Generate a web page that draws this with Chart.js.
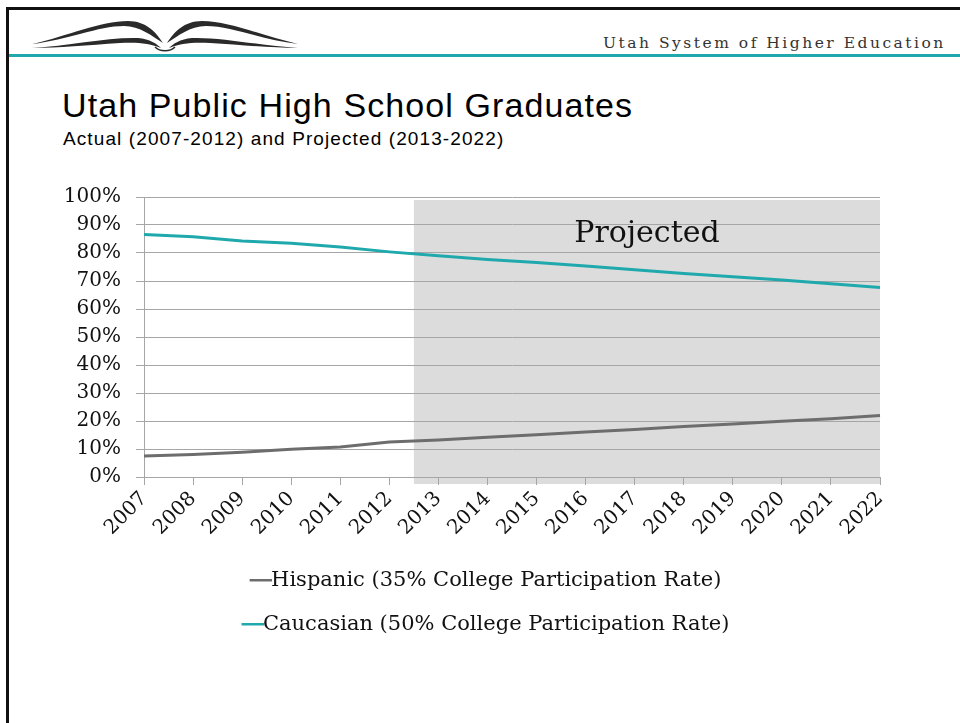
<!DOCTYPE html>
<html>
<head>
<meta charset="utf-8">
<script src="https://cdn.jsdelivr.net/npm/chart.js@4"></script>
<style>
  body{margin:0;background:#fff;width:960px;height:723px;overflow:hidden;position:relative;font-family:"Liberation Sans",Arial,sans-serif}
  #frame{position:absolute;left:6px;top:7px;width:960px;height:720px;border-left:3px solid #111;border-top:3px solid #111}
  #rule{position:absolute;left:9px;top:54px;width:951px;height:3px;background:#1fa9ad}
  #logo{position:absolute;left:28px;top:14px}
  #org{position:absolute;left:603px;top:34px;font-family:"DejaVu Serif",serif;font-size:15.5px;letter-spacing:2.5px;color:#333}
  #title{position:absolute;left:62px;top:86px;font-size:34px;letter-spacing:1.1px;color:#000}
  #sub{position:absolute;left:63px;top:128px;font-size:19px;letter-spacing:1.1px;color:#000}
  #wrap{position:absolute;left:0;top:170px;width:960px;height:475px}
</style>
</head>
<body>
<div id="frame"></div>
<svg id="logo" width="275" height="40" viewBox="0 0 275 40">
  <path d="M4,30 C40,22 72,7 100,7 C118,7 128,18 135,29 C124,22 112,12 96,12 C70,12 40,26 4,30 Z" fill="#2a2a2a"/>
  <path d="M4,34 C40,32 80,23 110,24 C122,25 129,30 133,34 C122,29 108,28 92,29 C60,31 30,34 4,34 Z" fill="#2a2a2a"/>
  <path d="M270,30 C234,22 202,7 174,7 C156,7 146,18 139,29 C150,22 162,12 178,12 C204,12 234,26 270,30 Z" fill="#2a2a2a"/>
  <path d="M270,34 C234,32 194,23 164,24 C152,25 145,30 141,34 C152,29 166,28 182,29 C214,31 244,34 270,34 Z" fill="#2a2a2a"/>
  <path d="M127,33 C132,38 142,38 147,33" stroke="#2a2a2a" stroke-width="1.5" fill="none"/>
</svg>
<div id="org">Utah System of Higher Education</div>
<div id="rule"></div>
<div id="title">Utah Public High School Graduates</div>
<div id="sub">Actual (2007-2012) and Projected (2013-2022)</div>
<div id="wrap"><canvas id="myChart"></canvas></div>
<script>
var years = ["2007","2008","2009","2010","2011","2012","2013","2014","2015","2016","2017","2018","2019","2020","2021","2022"];
var hispanic = [7.5, 8.0, 8.8, 9.9, 10.7, 12.5, 13.2, 14.2, 15.1, 16.1, 17.0, 18.0, 18.9, 19.9, 20.8, 22.0];
var caucasian = [86.6, 85.8, 84.3, 83.5, 82.1, 80.4, 79.0, 77.7, 76.6, 75.4, 74.0, 72.7, 71.5, 70.4, 69.0, 67.7];
var projectedFrom = "2013";
var projectedLabel = "Projected";

var serif = "'DejaVu Serif', 'Liberation Serif', serif";

// legend swatch: a short line that sits right against the label text
function swatch(color){
  var cv = document.createElement("canvas");
  cv.width = 44; cv.height = 4;
  var c = cv.getContext("2d");
  c.fillStyle = color;
  c.fillRect(22, 0, 22, 3);
  return cv;
}

var projectedBand = {
  id: "projectedBand",
  beforeDraw: function(chart){
    var x = chart.scales.x, a = chart.chartArea, c = chart.ctx;
    var i = years.indexOf(projectedFrom);
    var left = (x.getPixelForValue(i - 1) + x.getPixelForValue(i)) / 2;
    c.save();
    c.fillStyle = "#dcdcdc";
    c.fillRect(left, a.top + 3, a.right - left, a.bottom - a.top + 4);
    c.restore();
  },
  afterDraw: function(chart){
    var x = chart.scales.x, a = chart.chartArea, c = chart.ctx;
    var i = years.indexOf(projectedFrom);
    var left = (x.getPixelForValue(i - 1) + x.getPixelForValue(i)) / 2;
    c.save();
    c.font = "30px " + serif;
    c.fillStyle = "#111";
    c.textAlign = "center";
    c.textBaseline = "middle";
    c.fillText(projectedLabel, (left + a.right) / 2, a.top + 37);
    c.restore();
  }
};

var ctx = document.getElementById("myChart").getContext("2d");
var myChart = new Chart(ctx, {
  type: "line",
  data: {
    labels: years,
    datasets: [{
      label: "Hispanic (35% College Participation Rate)",
      data: hispanic,
      borderColor: "#6d6d6d",
      backgroundColor: "#6d6d6d",
      borderWidth: 3,
      pointRadius: 0,
      pointStyle: swatch("#6d6d6d"),
      tension: 0
    }, {
      label: "Caucasian (50% College Participation Rate)",
      data: caucasian,
      borderColor: "#1fa9ad",
      backgroundColor: "#1fa9ad",
      borderWidth: 3,
      pointRadius: 0,
      pointStyle: swatch("#1fa9ad"),
      tension: 0
    }]
  },
  options: {
    responsive: true,
    maintainAspectRatio: false,
    animation: false,
    layout: { padding: { top: 17, right: 0, left: 0, bottom: 0 } },
    plugins: {
      tooltip: { enabled: false },
      legend: {
        position: "bottom",
        labels: {
          color: "#111",
          font: { family: serif, size: 21 },
          usePointStyle: true,
          pointStyleWidth: 22,
          padding: 23
        }
      }
    },
    scales: {
      x: {
        afterFit: function(s){ s.height = 70; },
        grid: { drawOnChartArea: false, drawTicks: true, tickLength: 8, color: "#a6a6a6" },
        border: { color: "#a6a6a6" },
        ticks: { color: "#111", font: { family: serif, size: 20 }, maxRotation: 45, minRotation: 45, padding: 2, autoSkip: false }
      },
      y: {
        min: 0, max: 100,
        afterFit: function(s){ s.width = 144; },
        grid: { color: "#a6a6a6", tickLength: 8 },
        border: { color: "#a6a6a6" },
        ticks: { stepSize: 10, color: "#111", font: { family: serif, size: 20 }, padding: 15,
          callback: function(v){ return v + "%"; } }
      },
      // empty right-hand axis that only reserves the margin right of the plot
      yRight: {
        position: "right",
        min: 0, max: 100,
        afterFit: function(s){ s.width = 80; },
        grid: { drawOnChartArea: false, drawTicks: false },
        border: { display: false },
        ticks: { display: false }
      }
    }
  },
  plugins: [projectedBand]
});
</script>
</body>
</html>
